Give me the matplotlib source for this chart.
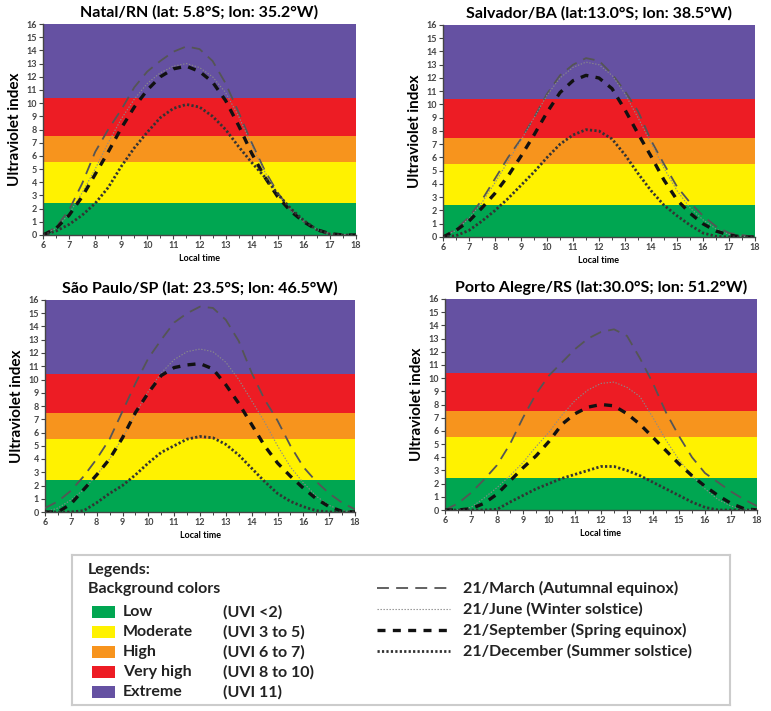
import numpy as np
import matplotlib
matplotlib.use("Agg")
import matplotlib.pyplot as plt
from matplotlib.lines import Line2D
from matplotlib.patches import Rectangle

plt.rcParams['font.family'] = ['Lato', 'DejaVu Sans']

# local time (hours), half-hour steps
hours = [6, 6.5, 7, 7.5, 8, 8.5, 9, 9.5, 10, 10.5, 11, 11.5, 12,
         12.5, 13, 13.5, 14, 14.5, 15, 15.5, 16, 16.5, 17, 17.5, 18]

titles = ["Natal/RN (lat: 5.8°S; lon: 35.2°W)",
          "Salvador/BA (lat:13.0°S; lon: 38.5°W)",
          "São Paulo/SP (lat: 23.5°S; lon: 46.5°W)",
          "Porto Alegre/RS (lat:30.0°S; lon: 51.2°W)"]

# UVI: march, june, september, december
natal_mar = [0, 0.6, 1.9, 3.9, 6.3, 8.0, 9.5, 11.2, 12.4, 13.2, 13.9, 14.3, 14.1,
             13.2, 11.5, 9.3, 7.0, 4.9, 3.2, 1.9, 1.0, 0.4, 0.1, 0, 0]
natal_jun = [0, 0.5, 1.6, 3.2, 5.0, 7.0, 8.8, 10.3, 11.5, 12.3, 12.8, 13.0, 12.7,
             12.0, 10.8, 9.0, 6.8, 4.8, 3.1, 1.9, 1.0, 0.4, 0.1, 0, 0]
natal_sep = [0, 0.5, 1.5, 2.9, 4.6, 6.3, 8.1, 9.7, 11.0, 12.0, 12.6, 12.8, 12.4,
             11.6, 10.2, 8.3, 6.2, 4.4, 2.9, 1.8, 1.0, 0.4, 0.1, 0, 0]
natal_dec = [0, 0.3, 0.8, 1.5, 2.4, 3.6, 5.2, 6.6, 7.8, 8.9, 9.6, 9.9, 9.7,
             9.0, 8.0, 6.7, 5.5, 4.4, 3.1, 2.0, 1.1, 0.4, 0.05, 0, 0]

salv_mar = [0, 0.6, 1.5, 2.8, 4.4, 6.0, 7.4, 9.0, 10.8, 12.2, 13.0, 13.5, 13.3,
            12.3, 11.0, 9.5, 7.3, 5.5, 3.8, 2.6, 1.6, 0.8, 0.3, 0.15, 0]
salv_jun = [0, 0.5, 1.4, 2.6, 4.1, 5.7, 7.3, 9.0, 10.7, 12.0, 12.8, 13.2, 13.0,
            12.2, 10.8, 9.0, 7.1, 5.2, 3.5, 2.2, 1.3, 0.6, 0.2, 0.05, 0]
salv_sep = [0, 0.5, 1.2, 2.2, 3.3, 4.6, 6.1, 7.7, 9.4, 10.9, 11.8, 12.2, 12.0,
            11.2, 9.6, 7.8, 6.1, 4.3, 2.8, 1.8, 1.0, 0.45, 0.15, 0, 0]
salv_dec = [0, 0.1, 0.5, 1.2, 2.0, 2.9, 3.9, 4.9, 6.0, 7.0, 7.7, 8.1, 8.0,
            7.4, 6.2, 4.8, 3.5, 2.4, 1.6, 0.9, 0.3, 0.05, 0, 0, 0]

sp_mar = [0.3, 0.8, 1.6, 2.7, 4.0, 5.5, 7.6, 9.7, 11.6, 13.0, 14.3, 15.0, 15.5,
          15.4, 14.5, 12.9, 10.5, 8.5, 6.9, 5.0, 3.4, 2.3, 1.4, 0.7, 0.2]
sp_jun = [0, 0.3, 0.9, 1.7, 2.8, 4.0, 5.6, 7.4, 9.1, 10.5, 11.5, 12.1, 12.3,
          12.1, 11.3, 10.0, 8.4, 6.8, 5.0, 3.4, 2.2, 1.2, 0.5, 0.1, 0]
sp_sep = [0, 0, 0.6, 1.7, 2.8, 4.0, 5.6, 7.5, 9.0, 10.3, 10.9, 11.1, 11.2,
          10.8, 9.6, 8.2, 6.6, 5.0, 3.7, 2.7, 1.8, 1.0, 0.4, 0.05, 0]
sp_dec = [0, 0, 0, 0.1, 0.7, 1.4, 2.0, 2.8, 3.7, 4.5, 5.0, 5.5, 5.7,
          5.6, 5.1, 4.3, 3.3, 2.3, 1.4, 0.8, 0.4, 0.1, 0, 0, 0]

pa_mar = [0, 0.5, 1.3, 2.3, 3.4, 5.0, 7.0, 8.8, 10.2, 11.2, 12.2, 13.0, 13.5,
          13.7, 13.2, 11.5, 9.6, 7.4, 5.6, 4.0, 2.8, 2.1, 1.4, 0.8, 0.3]
pa_jun = [0, 0, 0.2, 0.9, 1.7, 2.6, 3.6, 4.8, 5.9, 7.2, 8.3, 9.1, 9.6,
          9.7, 9.3, 8.6, 7.0, 5.3, 3.8, 2.6, 1.6, 0.8, 0.3, 0.05, 0]
pa_sep = [0, 0, 0.1, 0.5, 1.2, 2.2, 3.2, 4.1, 5.2, 6.5, 7.3, 7.8, 8.0,
          7.9, 7.3, 6.5, 5.5, 4.5, 3.5, 2.6, 1.8, 1.1, 0.5, 0.1, 0]
pa_dec = [0, 0, 0, 0, 0.05, 0.6, 1.1, 1.6, 2.0, 2.4, 2.7, 3.0, 3.3,
          3.3, 3.0, 2.6, 2.1, 1.6, 1.1, 0.6, 0.2, 0, 0, 0, 0]

cities = [[natal_mar, natal_jun, natal_sep, natal_dec],
          [salv_mar, salv_jun, salv_sep, salv_dec],
          [sp_mar, sp_jun, sp_sep, sp_dec],
          [pa_mar, pa_jun, pa_sep, pa_dec]]

# UV bands
band_edges = [0, 2.4, 5.5, 7.5, 10.4, 16]
band_colors = ['#00a651', '#fff200', '#f7941d', '#ed1c24', '#6551a2']
band_names = ['Low', 'Moderate', 'High', 'Very high', 'Extreme']
band_ranges = ['(UVI <2)', '(UVI 3 to 5)', '(UVI 6 to 7)', '(UVI 8 to 10)', '(UVI 11)']

series_labels = ['21/March (Autumnal equinox)', '21/June (Winter solstice)',
                 '21/September (Spring equinox)', '21/December (Summer solstice)']
styles = [dict(color='#555555', lw=1.3, linestyle=(0, (6.6, 4.0))),
          dict(color='#8a8a8a', lw=0.8, linestyle=(0, (1.2, 1.5))),
          dict(color='#111111', lw=2.4, linestyle=(0, (2.4, 2.2))),
          dict(color='#333333', lw=2.0, linestyle=(0, (0.8, 0.8)))]

fig = plt.figure(figsize=(7.71, 7.11), dpi=100)

W, H = 771.0, 711.0
boxes = [(43, 356, 24, 235), (443, 755, 25, 237),
         (45, 355, 300, 512), (445, 757, 299, 510)]

for i, (x0, x1, top, bot) in enumerate(boxes):
    ax = fig.add_axes([x0 / W, 1 - bot / H, (x1 - x0) / W, (bot - top) / H])
    for j in range(len(band_colors)):
        ax.axhspan(band_edges[j], band_edges[j + 1], color=band_colors[j], lw=0, zorder=0)
    for vals, st in zip(cities[i], styles):
        ax.plot(hours, vals, zorder=3, solid_capstyle='butt', dash_capstyle='butt', **st)
    ax.set_xlim(6, 18)
    ax.set_ylim(0, 16)
    ax.set_xticks(range(6, 19))
    ax.set_xticks(np.arange(6.5, 18, 1), minor=True)
    ax.set_yticks(range(0, 17))
    for s in ['top', 'right']:
        ax.spines[s].set_visible(False)
    for s in ['left', 'bottom']:
        ax.spines[s].set_color('#444444')
        ax.spines[s].set_linewidth(1.0)
    ax.tick_params(axis='both', which='major', labelsize=6.5, colors='#444444',
                   length=3, width=0.8, pad=1.5, direction='out')
    ax.tick_params(axis='x', which='minor', length=2, width=0.7, colors='#444444')
    for lab in ax.get_xticklabels() + ax.get_yticklabels():
        lab.set_fontweight('bold')
    ax.set_title(titles[i], fontsize=11.5, fontweight='bold', pad=5)
    ax.set_ylabel('Ultraviolet index', fontsize=11, fontweight='bold', labelpad=3)
    ax.set_xlabel('Local time', fontsize=6.5, fontweight='bold', labelpad=3)

# legend box (pixel-like coordinates inside)
lg = fig.add_axes([72 / W, 1 - 705 / H, 658 / W, 150 / H])
lg.set_xlim(0, 658)
lg.set_ylim(150, 0)
lg.set_xticks([])
lg.set_yticks([])
for s in lg.spines.values():
    s.set_color('#cccccc')
    s.set_linewidth(1.5)

fs = 11.5
lg.text(16, 15, 'Legends:', fontsize=fs, fontweight='bold', va='center', color='#222222')
lg.text(16, 34, 'Background colors', fontsize=fs, fontweight='bold', va='center', color='#222222')
for j in range(len(band_names)):
    y = 57 + 20 * j
    lg.add_patch(Rectangle((20, y - 6), 23, 12, color=band_colors[j], lw=0))
    lg.text(51, y, band_names[j], fontsize=fs, fontweight='bold', va='center', color='#222222')
    lg.text(151, y, band_ranges[j], fontsize=fs, fontweight='bold', va='center', color='#222222')

for k, lab in enumerate(series_labels):
    y = 33 + 21 * k
    lg.add_line(Line2D([305, 378], [y, y], dash_capstyle='butt', **styles[k]))
    lg.text(391, y, lab, fontsize=fs, fontweight='bold', va='center', color='#222222')

fig.savefig('out.png', dpi=100)
